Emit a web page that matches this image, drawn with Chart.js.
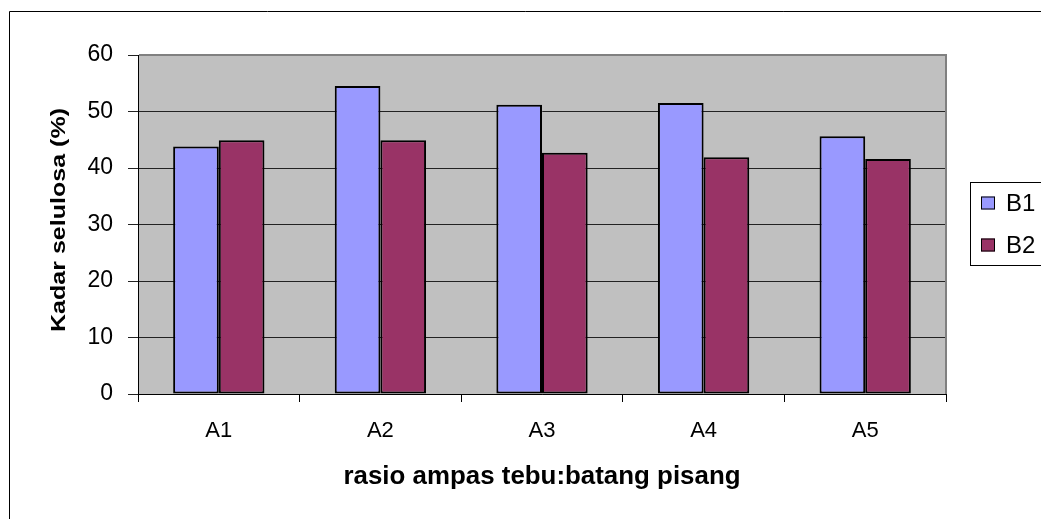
<!DOCTYPE html>
<html>
<head>
<meta charset="utf-8">
<script src="https://cdn.jsdelivr.net/npm/chart.js@4.4.0/dist/chart.umd.min.js"></script>
<style>
  html, body { margin: 0; padding: 0; background: #fff; }
  #wrap { width: 1041px; height: 519px; position: relative; }
</style>
</head>
<body>
<div id="wrap"><canvas id="c" width="1041" height="519"></canvas></div>
<script>
// Données
const categories = ['A1', 'A2', 'A3', 'A4', 'A5'];
const seriesB1 = [43.8, 54.5, 51.2, 51.5, 45.6];
const seriesB2 = [44.9, 44.9, 42.7, 41.9, 41.6];
const yTicks = [0, 10, 20, 30, 40, 50, 60];
const xTitle = 'rasio ampas tebu:batang pisang';
const yTitle = 'Kadar selulosa (%)';

const FONT = 'Arial, "Liberation Sans", sans-serif';

// Fond gris de la zone de tracé + cadre extérieur
const plotBackground = {
    id: 'plotBackground',
    beforeDraw(chart) {
        const { ctx, chartArea: a } = chart;
        ctx.save();
        ctx.fillStyle = '#c0c0c0';
        ctx.fillRect(a.left, a.top, a.right - a.left, a.bottom - a.top);
        // cadre extérieur (gauche et haut)
        ctx.strokeStyle = '#000';
        ctx.lineWidth = 1;
        ctx.beginPath();
        ctx.moveTo(9.5, 519);
        ctx.lineTo(9.5, 11.5);
        ctx.lineTo(1041, 11.5);
        ctx.stroke();
        ctx.restore();
    },
    afterDraw(chart) {
        const { ctx, chartArea: a } = chart;
        ctx.save();
        ctx.strokeStyle = '#808080';
        ctx.lineWidth = 2;
        ctx.beginPath();
        ctx.moveTo(a.left + 1, a.top);
        ctx.lineTo(a.right, a.top);
        ctx.lineTo(a.right, a.bottom);
        ctx.stroke();
        ctx.restore();
    }
};

// Titres des axes (texte un peu étiré comme dans l'original)
const axisTitles = {
    id: 'axisTitles',
    afterDraw(chart) {
        const { ctx, chartArea: a } = chart;
        ctx.save();
        ctx.fillStyle = '#000';
        ctx.textAlign = 'center';

        // titre X
        ctx.font = 'bold 25px ' + FONT;
        let w = ctx.measureText(xTitle).width;
        ctx.save();
        ctx.translate((a.left + a.right) / 2, 484);
        ctx.scale(397 / w, 1);
        ctx.textBaseline = 'alphabetic';
        ctx.fillText(xTitle, 0, 0);
        ctx.restore();

        // titre Y
        ctx.font = 'bold 21px ' + FONT;
        w = ctx.measureText(yTitle).width;
        ctx.save();
        ctx.translate(59, 220);
        ctx.rotate(-Math.PI / 2);
        ctx.scale(224 / w, 1);
        ctx.textBaseline = 'middle';
        ctx.fillText(yTitle, 0, 0);
        ctx.restore();

        ctx.restore();
    }
};

// Légende encadrée à droite
const boxLegend = {
    id: 'boxLegend',
    afterDraw(chart) {
        const { ctx } = chart;
        ctx.save();
        ctx.fillStyle = '#fff';
        ctx.fillRect(970, 182, 80, 83);
        ctx.strokeStyle = '#000';
        ctx.lineWidth = 1;
        ctx.strokeRect(970.5, 182.5, 80, 83);
        ctx.font = '24px ' + FONT;
        ctx.textBaseline = 'middle';
        chart.data.datasets.forEach((ds, i) => {
            const y = 203 + i * 42;
            ctx.fillStyle = ds.backgroundColor;
            ctx.fillRect(981, y - 6.5, 14, 13);
            ctx.strokeStyle = '#000';
            ctx.strokeRect(981.5, y - 6, 13, 12);
            ctx.fillStyle = '#000';
            ctx.fillText(ds.label, 1006, y + 1);
        });
        ctx.restore();
    }
};

new Chart(document.getElementById('c').getContext('2d'), {
    type: 'bar',
    data: {
        labels: categories,
        datasets: [
            {
                label: 'B1',
                data: seriesB1,
                backgroundColor: '#9999ff',
                borderColor: '#000',
                borderWidth: 2,
                borderSkipped: false
            },
            {
                label: 'B2',
                data: seriesB2,
                backgroundColor: '#993366',
                borderColor: '#000',
                borderWidth: 2,
                borderSkipped: false
            }
        ]
    },
    options: {
        responsive: false,
        animation: false,
        devicePixelRatio: 1,
        layout: { padding: { left: 0, top: 55, right: 95, bottom: 0 } },
        datasets: {
            bar: { categoryPercentage: 0.565, barPercentage: 1 }
        },
        plugins: {
            legend: { display: false },
            tooltip: { enabled: false },
            title: { display: false }
        },
        scales: {
            x: {
                afterFit(scale) { scale.height = 125; },
                grid: {
                    offset: true,
                    drawOnChartArea: false,
                    drawTicks: true,
                    tickLength: 8,
                    color: '#000'
                },
                border: { display: true, color: '#000', width: 1 },
                ticks: {
                    color: '#000',
                    padding: 16,
                    font: { family: FONT, size: 22 }
                }
            },
            y: {
                min: 0,
                max: 60,
                afterFit(scale) { scale.width = 138; },
                afterBuildTicks(scale) {
                    scale.ticks = yTicks.map(v => ({ value: v }));
                },
                grid: {
                    drawTicks: true,
                    tickLength: 10,
                    color: '#222',
                    lineWidth: 1
                },
                border: { display: true, color: '#000', width: 1 },
                ticks: {
                    color: '#000',
                    padding: 15,
                    font: { family: FONT, size: 23 }
                }
            }
        }
    },
    plugins: [plotBackground, axisTitles, boxLegend]
});
</script>
</body>
</html>
